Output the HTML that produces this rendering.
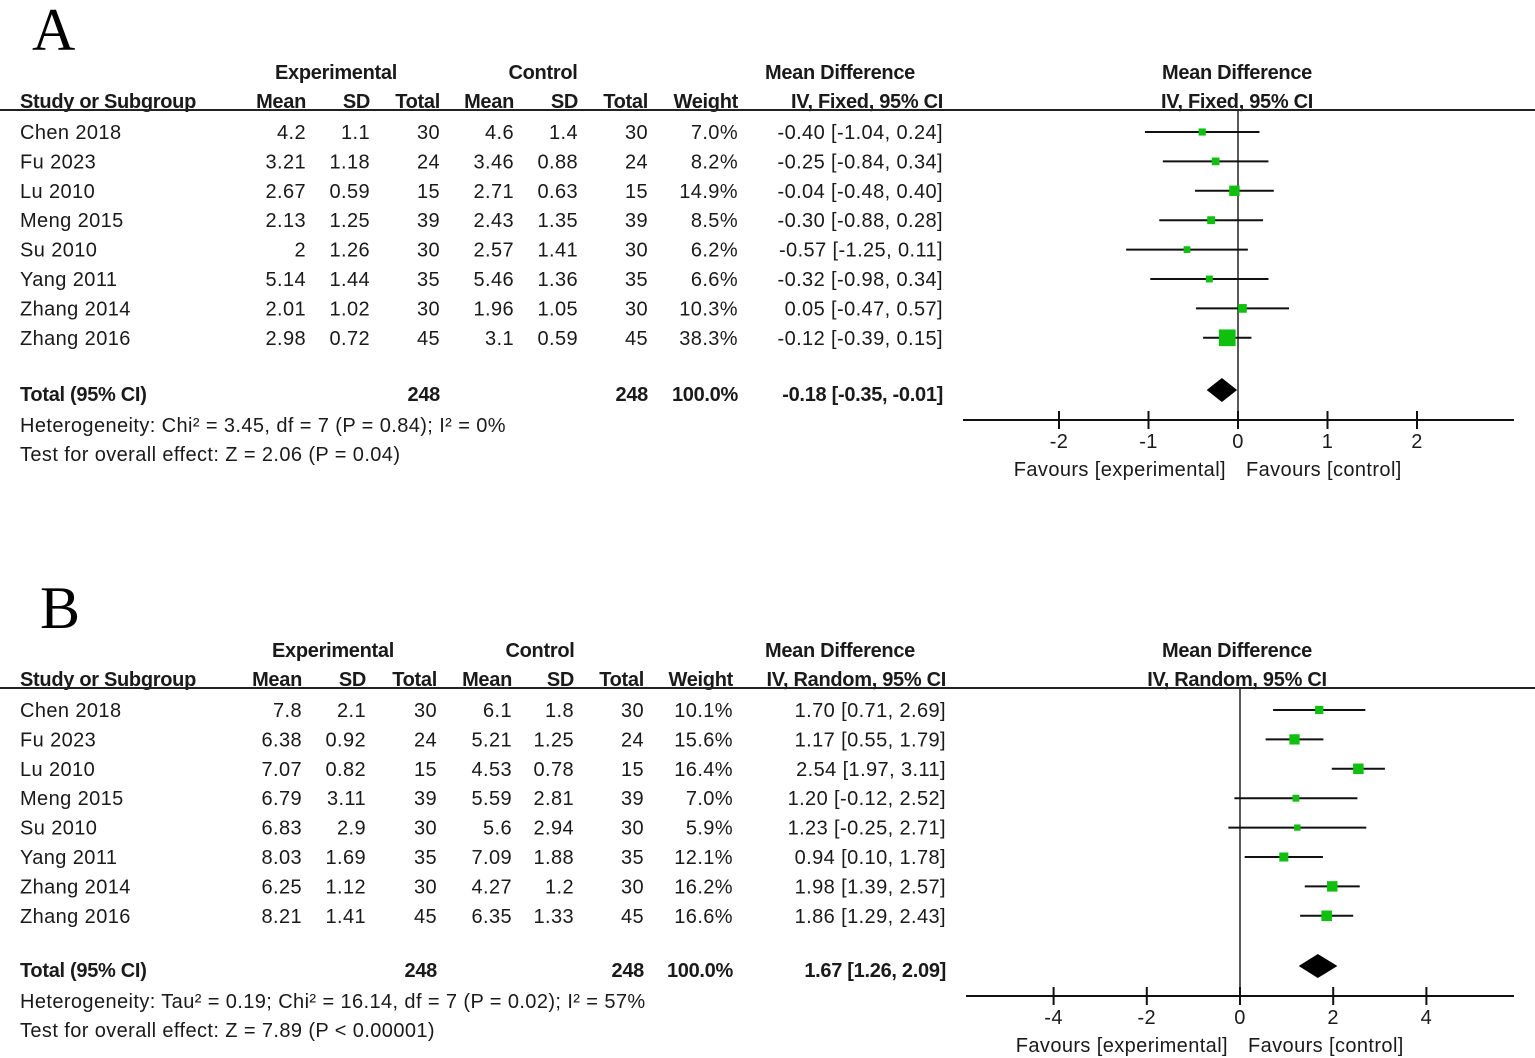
<!DOCTYPE html>
<html><head><meta charset="utf-8">
<style>
body{margin:0;background:#fff;}
svg{display:block;}
text{font-family:"Liberation Sans",Arial,sans-serif;font-size:20px;fill:#1a1a1a;letter-spacing:0.4px;}
.b{font-weight:bold;letter-spacing:-0.3px;}
.big{font-family:"Liberation Serif",serif;font-size:60px;fill:#000;letter-spacing:0;}
</style></head>
<body>
<svg id="chart" width="1535" height="1058" viewBox="0 0 1535 1058" xmlns="http://www.w3.org/2000/svg"></svg>
<script>
const studies = ["Chen 2018","Fu 2023","Lu 2010","Meng 2015","Su 2010","Yang 2011","Zhang 2014","Zhang 2016"];
const aExpMean = ["4.2","3.21","2.67","2.13","2","5.14","2.01","2.98"];
const aExpSD = ["1.1","1.18","0.59","1.25","1.26","1.44","1.02","0.72"];
const aN = ["30","24","15","39","30","35","30","45"];
const aCtlMean = ["4.6","3.46","2.71","2.43","2.57","5.46","1.96","3.1"];
const aCtlSD = ["1.4","0.88","0.63","1.35","1.41","1.36","1.05","0.59"];
const aWeight = [7.0,8.2,14.9,8.5,6.2,6.6,10.3,38.3];
const aMD = [-0.40,-0.25,-0.04,-0.30,-0.57,-0.32,0.05,-0.12];
const aLo = [-1.04,-0.84,-0.48,-0.88,-1.25,-0.98,-0.47,-0.39];
const aHi = [0.24,0.34,0.40,0.28,0.11,0.34,0.57,0.15];
const aTotal = [-0.18,-0.35,-0.01];
const aTicks = [-2,-1,0,1,2];

const bExpMean = ["7.8","6.38","7.07","6.79","6.83","8.03","6.25","8.21"];
const bExpSD = ["2.1","0.92","0.82","3.11","2.9","1.69","1.12","1.41"];
const bN = ["30","24","15","39","30","35","30","45"];
const bCtlMean = ["6.1","5.21","4.53","5.59","5.6","7.09","4.27","6.35"];
const bCtlSD = ["1.8","1.25","0.78","2.81","2.94","1.88","1.2","1.33"];
const bWeight = [10.1,15.6,16.4,7.0,5.9,12.1,16.2,16.6];
const bMD = [1.70,1.17,2.54,1.20,1.23,0.94,1.98,1.86];
const bLo = [0.71,0.55,1.97,-0.12,-0.25,0.10,1.39,1.29];
const bHi = [2.69,1.79,3.11,2.52,2.71,1.78,2.57,2.43];
const bTotal = [1.67,1.26,2.09];
const bTicks = [-4,-2,0,2,4];

const svg = document.getElementById('chart');
const NS = 'http://www.w3.org/2000/svg';
function mk(tag, attrs, txt){
  const e = document.createElementNS(NS, tag);
  for (const k in attrs) e.setAttribute(k, attrs[k]);
  if (txt !== undefined) e.textContent = txt;
  svg.appendChild(e);
  return e;
}
function f2(v){ return v.toFixed(2); }

function panel(P){
  const off = P.off;
  let t;
  t = mk('text',{x:P.letterX,y:off+50,class:'big'},P.letter);
  
  
  const h1 = [["Experimental",P.cx[1],"middle"],["Control",P.cx[4],"middle"],["Mean Difference",840,"middle"],["Mean Difference",1237,"middle"]];
  h1.forEach(h=>{
    t = mk('text',{x:h[1],y:off+79,class:'b','text-anchor':h[2]},h[0]);
    
    
  });
  const h2 = [["Study or Subgroup",20,"start"],["Mean",P.col[0],"end"],["SD",P.col[1],"end"],["Total",P.col[2],"end"],["Mean",P.col[3],"end"],["SD",P.col[4],"end"],["Total",P.col[5],"end"],["Weight",P.col[6],"end"],[P.method,P.col[7],"end"],[P.method,1237,"middle"]];
  h2.forEach(h=>{
    t = mk('text',{x:h[1],y:off+108,class:'b','text-anchor':h[2]},h[0]);
    
    
  });
  let l = mk('line',{x1:0,x2:1535,y1:off+110,y2:off+110,stroke:'#222','stroke-width':2});
  
  

  const X = v => P.zero + v*P.scale;
  l = mk('line',{x1:X(0),x2:X(0),y1:off+110,y2:off+P.axisY,stroke:'#222','stroke-width':1.5});
  
  

  for (let i=0;i<studies.length;i++){
    const y = off + 132 + i*29.4;
    const cells = [P.em[i],P.es[i],P.n[i],P.cm[i],P.cs[i],P.n[i],P.w[i].toFixed(1)+'%', f2(P.md[i])+' ['+f2(P.lo[i])+', '+f2(P.hi[i])+']'];
    t = mk('text',{x:20,y:y+7},studies[i]);
    
    
    cells.forEach((c,j)=>{
      t = mk('text',{x:P.col[j],y:y+7,'text-anchor':'end'},c);
      
      
    });
    l = mk('line',{x1:X(P.lo[i]),x2:X(P.hi[i]),y1:y,y2:y,stroke:'#111','stroke-width':2});
    
    
    const s = Math.sqrt(P.w[i])*P.k;
    const r = mk('rect',{x:X(P.md[i])-s/2,y:y-s/2,width:s,height:s,fill:'#0fc00f'});
    
    
  }
  const ty = off + P.totalY;
  const totals = [["Total (95% CI)",20,"start"],["248",P.col[2],"end"],["248",P.col[5],"end"],["100.0%",P.col[6],"end"],[f2(P.tot[0])+' ['+f2(P.tot[1])+', '+f2(P.tot[2])+']',P.col[7],"end"]];
  totals.forEach(h=>{
    t = mk('text',{x:h[1],y:ty+7,class:'b','text-anchor':h[2]},h[0]);
    
    
  });
  const d = mk('polygon',{points:[X(P.tot[1])+','+(ty-4), X(P.tot[0])+','+(ty-16), X(P.tot[2])+','+(ty-4), X(P.tot[0])+','+(ty+8)].join(' '),fill:'#000'});
  
  
  t = mk('text',{x:20,y:ty+38},P.het);
  
  
  t = mk('text',{x:20,y:ty+67},P.test);
  
  
  const ay = off + P.axisY;
  l = mk('line',{x1:P.axL,x2:P.axR,y1:ay,y2:ay,stroke:'#111','stroke-width':2});
  
  
  P.ticks.forEach(v=>{
    l = mk('line',{x1:X(v),x2:X(v),y1:ay-9,y2:ay+9,stroke:'#111','stroke-width':2});
    
    
    t = mk('text',{x:X(v),y:ay+28,'text-anchor':'middle'},String(v));
    
    
  });
  t = mk('text',{x:X(0)-12,y:ay+56,'text-anchor':'end'},'Favours [experimental]');
  
  
  t = mk('text',{x:X(0)+8,y:ay+56,'text-anchor':'start'},'Favours [control]');
  
  
}

panel({off:0,letter:'A',letterX:32,col:[306,370,440,514,578,648,738,943],cx:[0,336,0,0,543],
  method:'IV, Fixed, 95% CI',em:aExpMean,es:aExpSD,n:aN,cm:aCtlMean,cs:aCtlSD,w:aWeight,md:aMD,lo:aLo,hi:aHi,tot:aTotal,
  zero:1238,scale:89.5,ticks:aTicks,axisY:420,axL:963,axR:1514,totalY:394,k:2.7,
  het:'Heterogeneity: Chi\u00b2 = 3.45, df = 7 (P = 0.84); I\u00b2 = 0%',test:'Test for overall effect: Z = 2.06 (P = 0.04)'});
panel({off:578,letter:'B',letterX:40,col:[302,366,437,512,574,644,733,946],cx:[0,333,0,0,540],
  method:'IV, Random, 95% CI',em:bExpMean,es:bExpSD,n:bN,cm:bCtlMean,cs:bCtlSD,w:bWeight,md:bMD,lo:bLo,hi:bHi,tot:bTotal,
  zero:1240,scale:46.6,ticks:bTicks,axisY:418,axL:966,axR:1514,totalY:392,k:2.6,
  het:'Heterogeneity: Tau\u00b2 = 0.19; Chi\u00b2 = 16.14, df = 7 (P = 0.02); I\u00b2 = 57%',test:'Test for overall effect: Z = 7.89 (P < 0.00001)'});
</script>
</body></html>
